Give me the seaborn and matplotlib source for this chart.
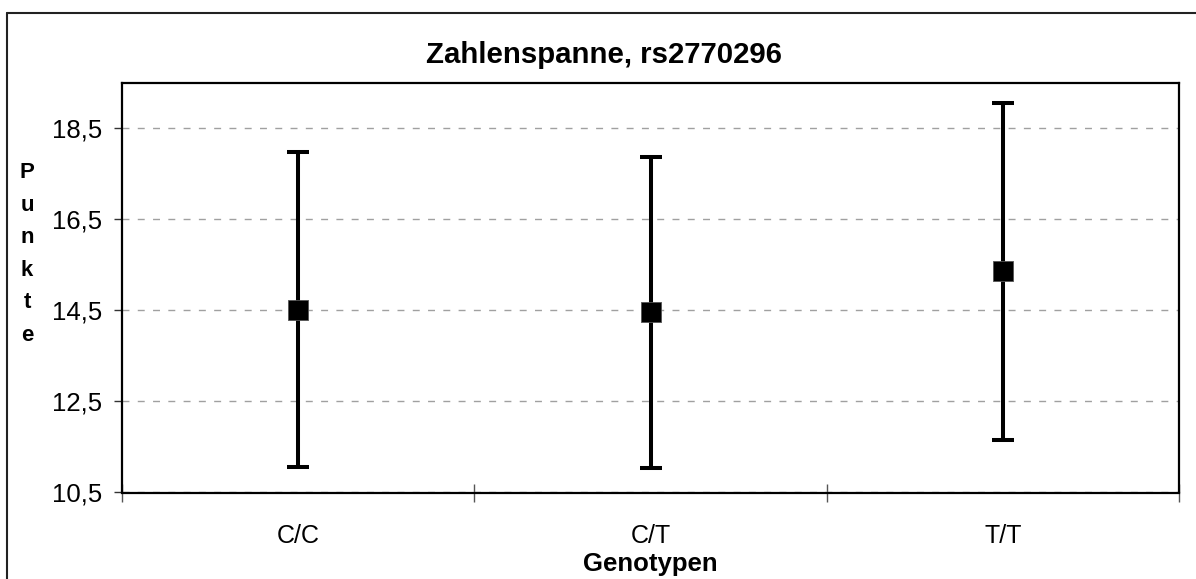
import numpy as np
import pandas as pd
import matplotlib
matplotlib.use("Agg")
import matplotlib.pyplot as plt
import seaborn as sns
from matplotlib.lines import Line2D
from matplotlib.ticker import FixedLocator, FixedFormatter, NullFormatter

# ---- data ----
genotypes = ["C/C", "C/T", "T/T"]
means = [14.52, 14.46, 15.36]
sds = [3.47, 3.42, 3.71]
yticks = [10.5, 12.5, 14.5, 16.5, 18.5]
ytick_labels = ["10,5", "12,5", "14,5", "16,5", "18,5"]
title = "Zahlenspanne, rs2770296"
xlabel = "Genotypen"
ylabel = "Punkte"

sns.set_theme(style="white")
plt.rcParams['font.family'] = ['Liberation Sans', 'DejaVu Sans']
plt.rcParams['text.color'] = 'black'
plt.rcParams['axes.labelcolor'] = 'black'
plt.rcParams['xtick.color'] = 'black'
plt.rcParams['ytick.color'] = 'black'

df = pd.DataFrame({"Genotyp": genotypes, "Punkte": means, "SD": sds})

W, H = 1196, 579
fig = plt.figure(figsize=(W / 100, H / 100), dpi=100)
fig.patch.set_facecolor("white")

left, right, top, bottom = 122, 1179, 83, 492.5
ax = fig.add_axes([left / W, 1 - bottom / H, (right - left) / W, (bottom - top) / H])
ax.set_facecolor("white")

sns.scatterplot(data=df, x="Genotyp", y="Punkte", marker="s", s=215,
                color="black", edgecolor="#555555", linewidth=0.6,
                ax=ax, zorder=4, legend=False)
ax.errorbar(x=df["Genotyp"], y=df["Punkte"], yerr=df["SD"], fmt="none",
            ecolor="black", elinewidth=2.9, capsize=7.9, capthick=2.9, zorder=3)

ax.set_xlim(-0.5, len(genotypes) - 0.5)
ax.set_ylim(10.5, 19.5)

# y axis
ax.yaxis.set_major_locator(FixedLocator(yticks))
ax.yaxis.set_major_formatter(FixedFormatter(ytick_labels))
ax.grid(axis="y", color="#a0a0a0", linestyle=(0, (5, 6)), linewidth=1.0)
ax.grid(axis="x", visible=False)
ax.tick_params(axis="y", which="major", direction="out", length=6, width=1,
               color="#333333", labelcolor="black", labelsize=18.5, pad=8, left=True)

# x axis: tick marks at category borders, labels at centres
ax.xaxis.set_major_locator(FixedLocator(np.arange(len(genotypes) + 1) - 0.5))
ax.xaxis.set_major_formatter(NullFormatter())
ax.xaxis.set_minor_locator(FixedLocator(np.arange(len(genotypes))))
ax.xaxis.set_minor_formatter(FixedFormatter(genotypes))
ax.tick_params(axis="x", which="major", direction="inout", length=13, width=1,
               color="#555555", bottom=True)
ax.tick_params(axis="x", which="minor", length=0, labelsize=18, labelcolor="black",
               pad=23, bottom=True)

for sp in ax.spines.values():
    sp.set_color("black")
    sp.set_linewidth(1.6)
    sp.set_visible(True)

ax.set_xlabel(xlabel, fontsize=18.5, fontweight="bold", color="black")
ax.xaxis.set_label_coords(0.5, -0.145)
ax.set_ylabel("\n".join(ylabel), rotation=0, fontsize=16, fontweight="bold",
              ha="center", va="center", linespacing=1.72, color="black")
ax.yaxis.set_label_coords((27 - left) / (right - left), (bottom - 254) / (bottom - top))

fig.text(604 / W, 1 - 63 / H, title, ha="center", va="baseline",
         fontsize=21.2, fontweight="bold", color="black")

# outer chart-area border (only top and left edges are inside the image)
fig.add_artist(Line2D([7 / W, 1.0], [1 - 13 / H, 1 - 13 / H], transform=fig.transFigure,
                      color="#222222", linewidth=1.5))
fig.add_artist(Line2D([7 / W, 7 / W], [0.0, 1 - 13 / H], transform=fig.transFigure,
                      color="#222222", linewidth=1.5))

fig.savefig("out.png", dpi=100, facecolor="white")
